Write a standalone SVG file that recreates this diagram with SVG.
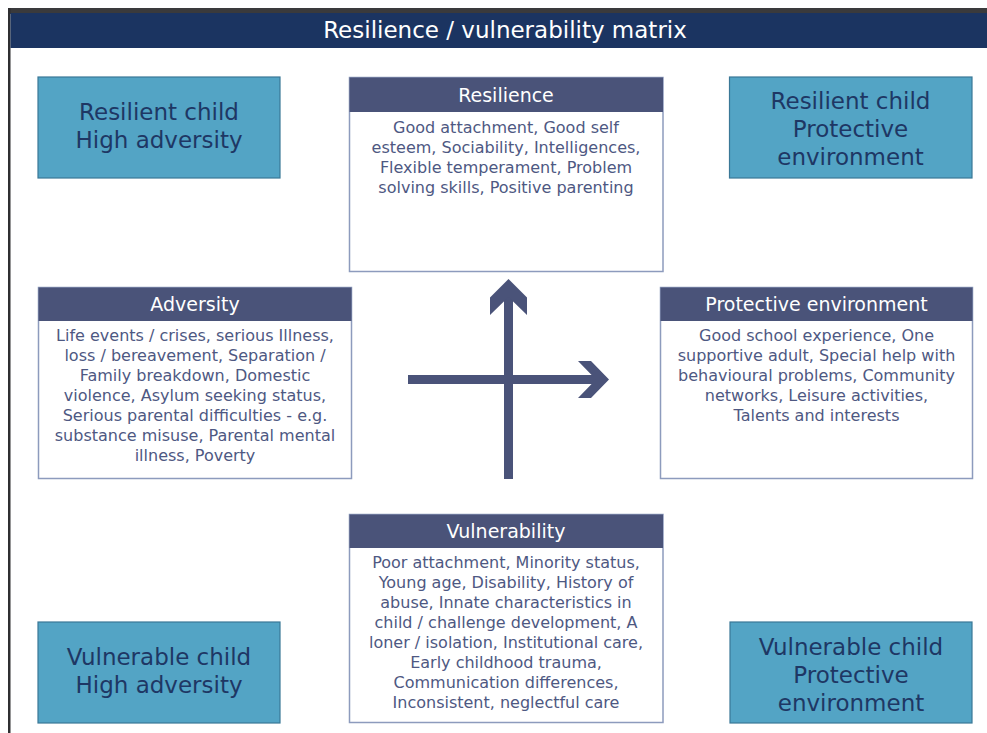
<svg xmlns="http://www.w3.org/2000/svg" width="987" height="733" viewBox="0 0 987 733">
  <style>
    text { font-family: "DejaVu Sans", "Liberation Sans", sans-serif; text-anchor: middle; }
    .title { fill: #ffffff; font-size: 23px; }
    .quad rect { fill: #53a4c5; stroke: #3a7897; stroke-width: 1.2; }
    .quad text { fill: #1e3764; font-size: 23px; }
    .panel .frame { fill: #ffffff; stroke: #8d9bbd; stroke-width: 1.5; }
    .panel .head { fill: #4a5379; }
    .panel .htext { fill: #ffffff; font-size: 19px; }
    .panel .body { fill: #4e5882; font-size: 16px; }
    .axis { fill: #4a5379; }
  </style>

  <rect x="0" y="0" width="987" height="733" fill="#ffffff"/>

  <!-- slide frame and title bar -->
  <g id="title-bar">
    <rect x="8" y="8" width="979" height="6" fill="#3a3a3c"/>
    <rect x="8" y="8" width="2.5" height="725" fill="#2f2f31"/>
    <rect x="10.5" y="13" width="976.5" height="35" fill="#1b3461"/>
    <text class="title" x="505" y="38">Resilience / vulnerability matrix</text>
  </g>

  <!-- corner quadrants -->
  <g id="resilient-high-adversity" class="quad">
    <rect x="38" y="77" width="242" height="101"/>
    <text x="159" y="120">Resilient child</text>
    <text x="159" y="148">High adversity</text>
  </g>
  <g id="resilient-protective" class="quad">
    <rect x="729.5" y="77" width="242.5" height="101"/>
    <text x="850.5" y="109">Resilient child</text>
    <text x="850.5" y="137">Protective</text>
    <text x="850.5" y="165">environment</text>
  </g>
  <g id="vulnerable-high-adversity" class="quad">
    <rect x="38" y="622" width="242" height="101"/>
    <text x="159" y="665">Vulnerable child</text>
    <text x="159" y="693">High adversity</text>
  </g>
  <g id="vulnerable-protective" class="quad">
    <rect x="730" y="622" width="242" height="101"/>
    <text x="851" y="655">Vulnerable child</text>
    <text x="851" y="683">Protective</text>
    <text x="851" y="711">environment</text>
  </g>

  <!-- factor panels -->
  <g id="resilience" class="panel">
    <rect class="frame" x="349.5" y="77.5" width="313.5" height="194"/>
    <rect class="head" x="349.5" y="77.5" width="313.5" height="34.5"/>
    <text class="htext" x="506" y="101.5">Resilience</text>
    <text class="body" x="506" y="133">Good attachment, Good self</text>
    <text class="body" x="506" y="153">esteem, Sociability, Intelligences,</text>
    <text class="body" x="506" y="173">Flexible temperament, Problem</text>
    <text class="body" x="506" y="193">solving skills, Positive parenting</text>
  </g>

  <g id="adversity" class="panel">
    <rect class="frame" x="38.5" y="287.5" width="313" height="191"/>
    <rect class="head" x="38.5" y="287.5" width="313" height="33.5"/>
    <text class="htext" x="195" y="310.5">Adversity</text>
    <text class="body" x="195" y="340.5">Life events / crises, serious Illness,</text>
    <text class="body" x="195" y="360.5">loss / bereavement, Separation /</text>
    <text class="body" x="195" y="380.5">Family breakdown, Domestic</text>
    <text class="body" x="195" y="400.5">violence, Asylum seeking status,</text>
    <text class="body" x="195" y="420.5">Serious parental difficulties - e.g.</text>
    <text class="body" x="195" y="440.5">substance misuse, Parental mental</text>
    <text class="body" x="195" y="460.5">illness, Poverty</text>
  </g>

  <g id="protective-environment" class="panel">
    <rect class="frame" x="660.5" y="287.5" width="312" height="191"/>
    <rect class="head" x="660.5" y="287.5" width="312" height="33.5"/>
    <text class="htext" x="816.5" y="310.5">Protective environment</text>
    <text class="body" x="816.5" y="340.5">Good school experience, One</text>
    <text class="body" x="816.5" y="360.5">supportive adult, Special help with</text>
    <text class="body" x="816.5" y="380.5">behavioural problems, Community</text>
    <text class="body" x="816.5" y="400.5">networks, Leisure activities,</text>
    <text class="body" x="816.5" y="420.5">Talents and interests</text>
  </g>

  <g id="vulnerability" class="panel">
    <rect class="frame" x="349.5" y="514.5" width="313.5" height="208"/>
    <rect class="head" x="349.5" y="514.5" width="313.5" height="33.5"/>
    <text class="htext" x="506" y="538">Vulnerability</text>
    <text class="body" x="506" y="568">Poor attachment, Minority status,</text>
    <text class="body" x="506" y="588">Young age, Disability, History of</text>
    <text class="body" x="506" y="608">abuse, Innate characteristics in</text>
    <text class="body" x="506" y="628">child / challenge development, A</text>
    <text class="body" x="506" y="648">loner / isolation, Institutional care,</text>
    <text class="body" x="506" y="668">Early childhood trauma,</text>
    <text class="body" x="506" y="688">Communication differences,</text>
    <text class="body" x="506" y="708">Inconsistent, neglectful care</text>
  </g>

  <!-- central axes -->
  <g id="axes" class="axis">
    <rect x="504" y="290" width="9" height="189"/>
    <polygon points="508.5,279 527,297.5 527,315 508.5,297 490,315 490,297.5"/>
    <rect x="408" y="375" width="190" height="9"/>
    <polygon points="609,379.5 591,361 578,361 596,379.5 578,398 591,398"/>
  </g>
</svg>
